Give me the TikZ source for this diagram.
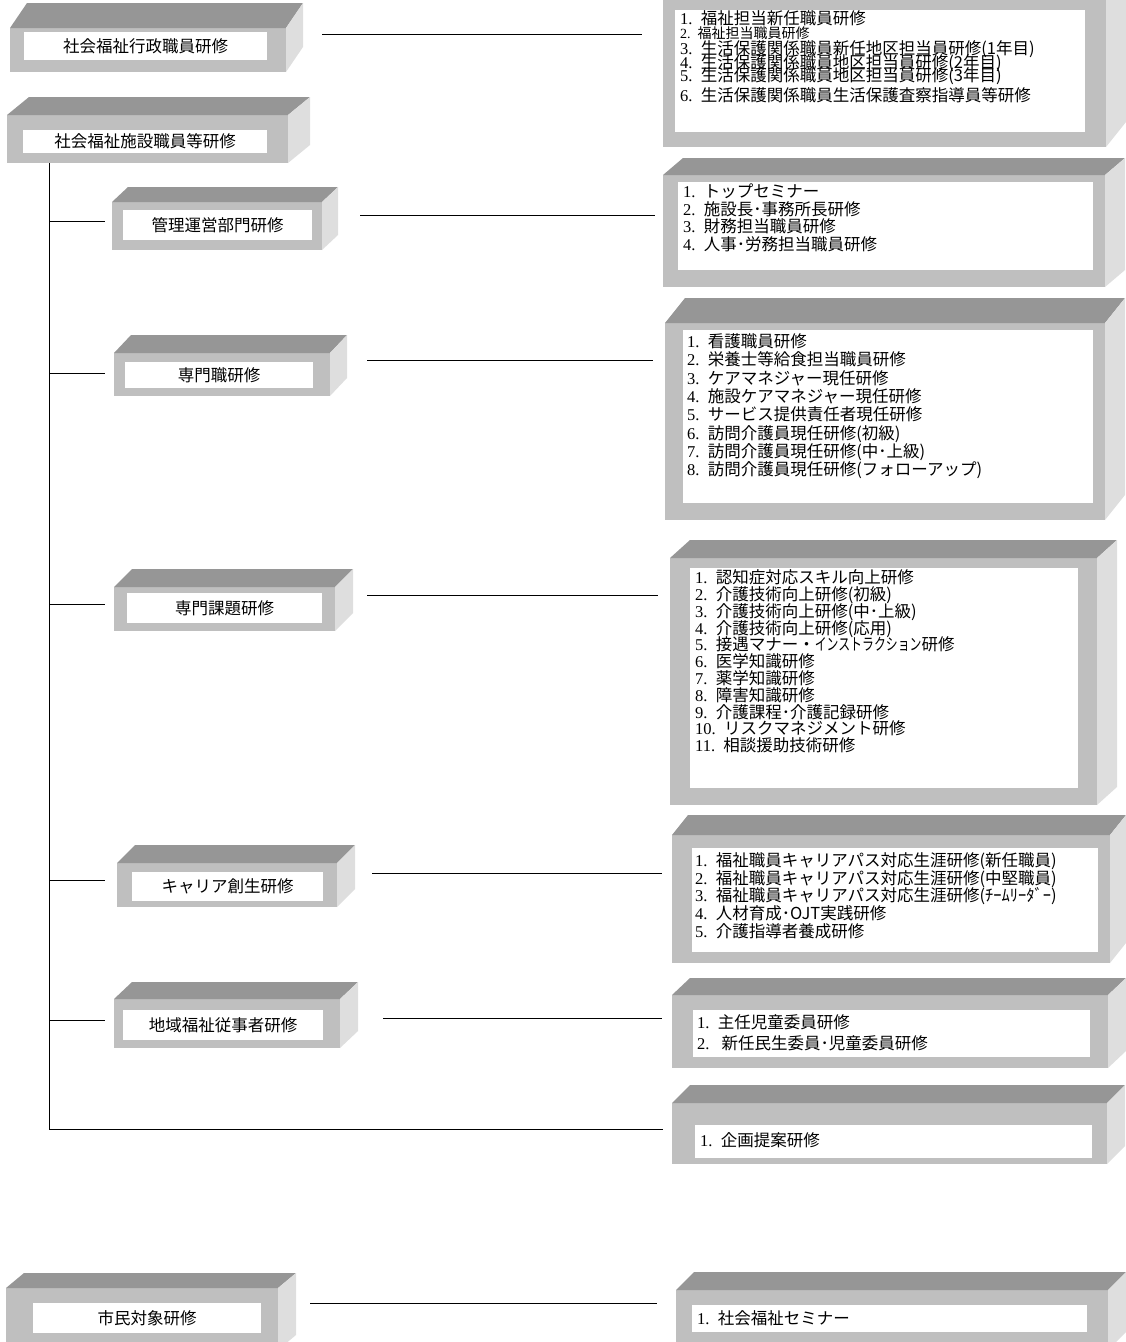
\documentclass[tikz,border=0pt]{standalone}
\usepackage{fontspec}
\usepackage{graphicx}
\setmainfont{Noto Sans CJK JP}
\newfontfamily\numfont{Liberation Serif}
\definecolor{topgray}{gray}{0.59}
\definecolor{frontgray}{gray}{0.75}
\definecolor{sidegray}{gray}{0.87}
\newcommand\itm[2]{{\numfont #1.}\hspace{0.5em}#2}
\newcommand\tightlines{\lineskiplimit-20pt\relax}
% top and right faces of a slab node: name, depth x, depth y
\newcommand\boxfaces[3]{%
  \fill[topgray] (#1.north west) -- ([shift={(#2,-#3)}]#1.north west)
    -- ([shift={(#2,-#3)}]#1.north east) -- (#1.north east) -- cycle;
  \fill[sidegray] (#1.north east) -- ([shift={(#2,-#3)}]#1.north east)
    -- ([shift={(#2,-#3)}]#1.south east) -- (#1.south east) -- cycle;}

\begin{document}
\begin{tikzpicture}[x=1pt,y=-1pt,
    slab/.style 2 args={fill=frontgray,inner sep=0,outer sep=0,minimum width=#1pt,minimum height=#2pt},
    panel/.style 2 args={fill=white,inner sep=0,outer sep=0,minimum width=#1pt,minimum height=#2pt,
      font=\fontsize{16.5}{20}\selectfont},
    entries/.style={anchor=north west,align=left,inner sep=0,
      font=\fontsize{16.5}{17.7}\selectfont\tightlines},
    link/.style={line width=1pt}]
  \useasboundingbox (0,0) rectangle (1126,1342);
  %\draw [help lines,step=100] (0,0) grid (1126,1342);

  % left column
  \node[slab={276}{44}] (gyosei) at (148,50) {};
  \boxfaces{gyosei}{17}{25}
  \node[panel={243}{28}] (gyoseilabel) at (145.5,46) {社会福祉行政職員研修};

  \node[slab={281}{48}] (shisetsu) at (147.5,139) {};
  \boxfaces{shisetsu}{22}{18}
  \node[panel={244}{23}] (shisetsulabel) at (145,141.5) {社会福祉施設職員等研修};

  \node[slab={210}{48}] (kanri) at (217,226) {};
  \boxfaces{kanri}{16}{15}
  \node[panel={189}{30}] (kanrilabel) at (217.5,225) {管理運営部門研修};

  \node[slab={216}{43}] (senmon) at (222,374.5) {};
  \boxfaces{senmon}{17}{18}
  \node[panel={188}{26}] (senmonlabel) at (219,375) {専門職研修};

  \node[slab={221}{44}] (kadai) at (224.5,609) {};
  \boxfaces{kadai}{18}{18}
  \node[panel={195}{30}] (kadailabel) at (224.5,608) {専門課題研修};

  \node[slab={220}{44}] (career) at (227,885) {};
  \boxfaces{career}{18}{18}
  \node[panel={191}{29}] (careerlabel) at (227.5,886.5) {キャリア創生研修};

  \node[slab={226}{49}] (chiiki) at (227,1023.5) {};
  \boxfaces{chiiki}{18}{17}
  \node[panel={200}{30}] (chiikilabel) at (223,1025) {地域福祉従事者研修};

  \node[slab={272}{62}] (shimin) at (142,1319) {};
  \boxfaces{shimin}{18}{15}
  \node[panel={228}{30}] (shiminlabel) at (147,1318) {市民対象研修};

  % right column
  \node[slab={443}{152}] (gyoseibox) at (884.5,71) {};
  \boxfaces{gyoseibox}{20}{25}
  \node[panel={410}{122}] (gyoseipanel) at (880,71) {};
  \node[entries,font=\fontsize{16.5}{13.5}\selectfont\tightlines] (gyoseilist) at (680,10.5) {%
    \itm{1}{福祉担当新任職員研修}\\
    {\fontsize{14}{13}\selectfont\itm{2}{福祉担当職員研修}}\\[2.5pt]
    \itm{3}{生活保護関係職員新任地区担当員研修(1年目)}\\[0.5pt]
    \itm{4}{生活保護関係職員地区担当員研修(2年目)}\\
    \itm{5}{生活保護関係職員地区担当員研修(3年目)}\\[6.5pt]
    \itm{6}{生活保護関係職員生活保護査察指導員等研修}};

  \node[slab={442}{112}] (kanribox) at (884,231) {};
  \boxfaces{kanribox}{20}{17}
  \node[panel={415}{88}] (kanripanel) at (885.5,226) {};
  \node[entries] (kanrilist) at (683,183.5) {%
    \itm{1}{トップセミナー}\\
    \itm{2}{施設長･事務所長研修}\\
    \itm{3}{財務担当職員研修}\\
    \itm{4}{人事･労務担当職員研修}};

  \node[slab={440}{197}] (senmonbox) at (885,421.5) {};
  \boxfaces{senmonbox}{20}{25}
  \node[panel={410}{173}] (senmonpanel) at (888,416.5) {};
  \node[entries,font=\fontsize{16.5}{18.3}\selectfont\tightlines] (senmonlist) at (687,333.5) {%
    \itm{1}{看護職員研修}\\
    \itm{2}{栄養士等給食担当職員研修}\\
    \itm{3}{ケアマネジャー現任研修}\\
    \itm{4}{施設ケアマネジャー現任研修}\\
    \itm{5}{サービス提供責任者現任研修}\\
    \itm{6}{訪問介護員現任研修(初級)}\\
    \itm{7}{訪問介護員現任研修(中･上級)}\\
    \itm{8}{訪問介護員現任研修(フォローアップ)}};

  \node[slab={427}{247}] (kadaibox) at (883.5,681.5) {};
  \boxfaces{kadaibox}{20}{18}
  \node[panel={388}{220}] (kadaipanel) at (884,678) {};
  \node[entries,font=\fontsize{16.5}{16.8}\selectfont\tightlines] (kadailist) at (695,569.5) {%
    \itm{1}{認知症対応スキル向上研修}\\
    \itm{2}{介護技術向上研修(初級)}\\
    \itm{3}{介護技術向上研修(中･上級)}\\
    \itm{4}{介護技術向上研修(応用)}\\
    \itm{5}{接遇マナー・\scalebox{0.72}[1]{インストラクション}研修}\\
    \itm{6}{医学知識研修}\\
    \itm{7}{薬学知識研修}\\
    \itm{8}{障害知識研修}\\
    \itm{9}{介護課程･介護記録研修}\\
    \itm{10}{リスクマネジメント研修}\\
    \itm{11}{相談援助技術研修}};

  \node[slab={438}{128}] (careerbox) at (891,899) {};
  \boxfaces{careerbox}{16}{20}
  \node[panel={406}{104}] (careerpanel) at (895,900) {};
  \node[entries] (careerlist) at (695,852.5) {%
    \itm{1}{福祉職員キャリアパス対応生涯研修(新任職員)}\\
    \itm{2}{福祉職員キャリアパス対応生涯研修(中堅職員)}\\
    \itm{3}{福祉職員キャリアパス対応生涯研修(ﾁｰﾑﾘｰﾀﾞｰ)}\\
    \itm{4}{人材育成･OJT実践研修}\\
    \itm{5}{介護指導者養成研修}};

  \node[slab={436}{73}] (chiikibox) at (890,1031.5) {};
  \boxfaces{chiikibox}{18}{17}
  \node[panel={397}{47}] (chiikipanel) at (891.5,1033.5) {};
  \node[entries,font=\fontsize{16.5}{21}\selectfont] (chiikilist) at (697,1014.5) {%
    \itm{1}{主任児童委員研修}\\
    \itm{2}{\ 新任民生委員･児童委員研修}};

  \node[slab={435}{61}] (kikakubox) at (889.5,1133.5) {};
  \boxfaces{kikakubox}{18}{18}
  \node[panel={397}{33}] (kikakupanel) at (893.5,1141.5) {};
  \node[entries] (kikakulist) at (700,1132.5) {\itm{1}{企画提案研修}};

  \node[slab={432}{60}] (shiminbox) at (892,1320) {};
  \boxfaces{shiminbox}{18}{18}
  \node[panel={395}{27}] (shiminpanel) at (889.5,1318.5) {};
  \node[entries] (shiminlist) at (697,1310.5) {\itm{1}{社会福祉セミナー}};

  % connectors
  \coordinate (gyoseiL) at (322,34);   \coordinate (gyoseiR) at (642,34);
  \coordinate (kanriL) at (360,215);   \coordinate (kanriR) at (655,215);
  \coordinate (senmonL) at (367,360);  \coordinate (senmonR) at (653,360);
  \coordinate (kadaiL) at (367,595);   \coordinate (kadaiR) at (658,595);
  \coordinate (careerL) at (372,873);  \coordinate (careerR) at (662,873);
  \coordinate (chiikiL) at (383,1018); \coordinate (chiikiR) at (662,1018);
  \coordinate (shiminL) at (310,1303); \coordinate (shiminR) at (657,1303);
  \coordinate (trunktop) at (49,163);  \coordinate (trunkbot) at (49,1129);
  \coordinate (kikakuR) at (663,1129);

  \draw[link] (gyoseiL) -- (gyoseiR);
  \draw[link] (kanriL) -- (kanriR);
  \draw[link] (senmonL) -- (senmonR);
  \draw[link] (kadaiL) -- (kadaiR);
  \draw[link] (careerL) -- (careerR);
  \draw[link] (chiikiL) -- (chiikiR);
  \draw[link] (shiminL) -- (shiminR);
  \draw[link] (trunktop) -- (trunkbot) -- (kikakuR);
  \foreach \y in {221,373,604,880,1020}
    \draw[link] (trunktop |- 0,\y) -- (105,\y);
\end{tikzpicture}
\end{document}
